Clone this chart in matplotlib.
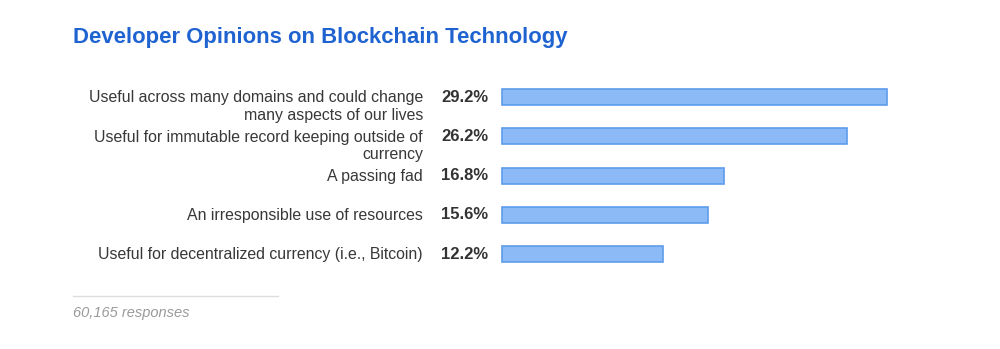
import matplotlib
matplotlib.use("Agg")
import matplotlib.pyplot as plt
import matplotlib.transforms as mtransforms
from matplotlib.lines import Line2D

# data
answers = [
    "Useful across many domains and could change\nmany aspects of our lives",
    "Useful for immutable record keeping outside of\ncurrency",
    "A passing fad",
    "An irresponsible use of resources",
    "Useful for decentralized currency (i.e., Bitcoin)",
]
shares = [29.2, 26.2, 16.8, 15.6, 12.2]
title = "Developer Opinions on Blockchain Technology"
footnote = "60,165 responses"

plt.rcParams['font.family'] = ['Liberation Sans', 'DejaVu Sans']

fig = plt.figure(figsize=(10, 3.49), dpi=100)
ax = fig.add_axes([0.502, 0.216, 0.385, 0.562])

pos = list(range(len(answers)))
ax.barh(pos, shares, height=0.41, color='#8cbaf7', edgecolor='#5d9cec',
        linewidth=1.2, clip_on=False)
ax.set_xlim(0, max(shares))
ax.set_ylim(len(answers) - 0.5, -0.5)
ax.axis('off')

# labels sit left of the bars; wrapped labels hang below the bar centre
trans = mtransforms.blended_transform_factory(fig.transFigure, ax.transData)
for y, (label, val) in enumerate(zip(answers, shares)):
    lines = label.split("\n")
    for k, line in enumerate(lines):
        ax.annotate(line, xy=(0.423, y), xycoords=trans,
                    xytext=(0, -0.5 - 12.6 * k), textcoords='offset points',
                    ha='right', va='center', fontsize=11.4, color='#383838')
    ax.text(0.488, y, f"{val:.1f}%", transform=trans, ha='right', va='center',
            fontsize=12, fontweight='bold', color='#333333')

fig.text(0.073, 1 - 37 / 349, title, ha='left', va='center', fontsize=15.9,
         fontweight='bold', color='#1f63d1')

fig.add_artist(Line2D([0.073, 0.278], [1 - 296 / 349] * 2, transform=fig.transFigure,
                      color='#dddddd', linewidth=1))
fig.text(0.073, 1 - 313 / 349, footnote, ha='left', va='center', fontsize=10.5,
         fontstyle='italic', color='#9a9a9a')

fig.savefig("out.png", dpi=100)
